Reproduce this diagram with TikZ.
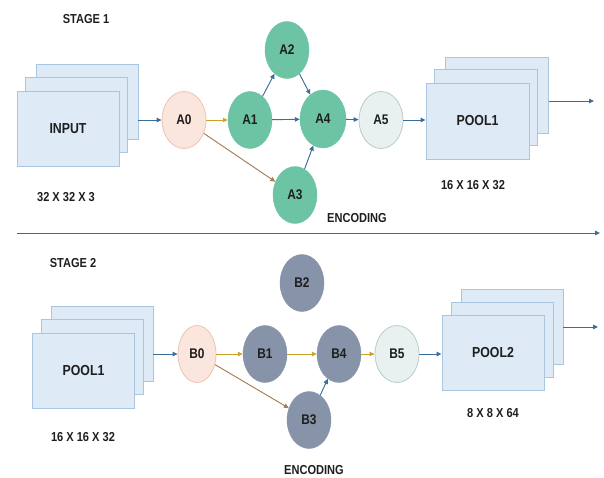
\documentclass[tikz,border=0pt]{standalone}
\usepackage{fontspec}
\setmainfont[FakeStretch=0.85]{Liberation Sans}
\usetikzlibrary{shapes.geometric,arrows.meta}
\definecolor{rectfill}{HTML}{DEEAF6}
\definecolor{rectline}{HTML}{A9C5E0}
\definecolor{tealfill}{HTML}{6CC4A4}
\definecolor{grayfill}{HTML}{8693A9}
\definecolor{peachfill}{HTML}{FBE6DE}
\definecolor{peachline}{HTML}{EEC2B2}
\definecolor{palefill}{HTML}{E8F0F0}
\definecolor{paleline}{HTML}{B8CCCC}
\definecolor{bluel}{HTML}{3A6E9A}
\definecolor{goldl}{HTML}{C9A227}
\definecolor{brownl}{HTML}{A67C52}
\definecolor{txt}{HTML}{1E1E1E}
\tikzset{
  lbl/.style={font=\bfseries\fontsize{13}{15}\selectfont, text=txt, inner sep=0pt},
  sheet/.style={draw=rectline, fill=rectfill, line width=0.9pt, minimum width=102pt, minimum height=75pt, inner sep=0pt, font=\bfseries\fontsize{14.5}{16}\selectfont, text=txt},
  nd/.style={ellipse, minimum width=44pt, minimum height=57pt, inner sep=0pt, font=\bfseries\fontsize{14}{16}\selectfont, text=txt},
  tealnd/.style={nd, fill=tealfill, draw=tealfill},
  graynd/.style={nd, fill=grayfill, draw=grayfill},
  peachnd/.style={nd, fill=peachfill, draw=peachline, line width=0.8pt},
  palend/.style={nd, fill=palefill, draw=paleline, line width=0.8pt},
  con/.style={line width=0.9pt, -{Triangle[length=5pt,width=4.5pt]}},
  bcon/.style={con, draw=bluel, fill=bluel},
  gcon/.style={con, draw=goldl, fill=goldl},
  rcon/.style={con, draw=brownl, fill=brownl},
}
\begin{document}
\begin{tikzpicture}[x=1pt,y=-1pt]
\useasboundingbox (0,0) rectangle (604,477);
% ---------- Stage 1 ----------
\node[lbl] (st1) at (86,19) {STAGE 1};
\node[sheet] (inback) at (87,102) {};
\node[sheet] (inmid) at (76.5,115) {};
\node[sheet] (infront) at (68,128.5) {INPUT};
\node[lbl] (dim1) at (66,197) {32 X 32 X 3};

\node[peachnd] (a0) at (184,120) {A0};
\node[tealnd] (a1) at (250,120) {A1};
\node[tealnd] (a2) at (287,50) {A2};
\node[tealnd] (a3) at (295,195) {A3};
\node[tealnd, minimum width=46pt, minimum height=58pt] (a4) at (323,119) {A4};
\node[palend] (a5) at (381,120) {A5};

\node[sheet, minimum width=103pt, minimum height=76pt] (p1back) at (497,95) {};
\node[sheet, minimum width=103pt, minimum height=76pt] (p1mid) at (486,107) {};
\node[sheet, minimum width=103pt, minimum height=76pt] (p1front) at (477.5,121) {POOL1};
\node[lbl] (dim2) at (473,185) {16 X 16 X 32};
\node[lbl] (enc1) at (357,218) {ENCODING};
\coordinate (out1) at (594,101);

\draw[bcon] (inback.east |- a0) -- (a0);
\draw[gcon] (a0) -- (a1);
\draw[rcon] (a0) -- (a3);
\draw[bcon] (a1) -- (a2);
\draw[bcon] (a1) -- (a4);
\draw[bcon] (a2) -- (a4);
\draw[bcon] (a3) -- (a4);
\draw[bcon] (a4) -- (a5);
\draw[bcon] (a5) -- (p1front.west |- a5);
\draw[bcon] (p1back.east |- out1) -- (out1);

% separator
\coordinate (sepl) at (17,233);
\coordinate (sepr) at (600,233);
\draw[bcon] (sepl) -- (sepr);

% ---------- Stage 2 ----------
\node[lbl] (st2) at (73,263) {STAGE 2};
\node[sheet] (qback) at (102,344) {};
\node[sheet] (qmid) at (92,356.5) {};
\node[sheet] (qfront) at (83.5,370.5) {POOL1};
\node[lbl] (dim3) at (83,437) {16 X 16 X 32};

\node[peachnd, minimum width=38pt] (b0) at (197,354) {B0};
\node[graynd] (b1) at (265,354) {B1};
\node[graynd] (b2) at (302,283) {B2};
\node[graynd] (b3) at (309,420) {B3};
\node[graynd] (b4) at (339,354) {B4};
\node[palend] (b5) at (397,354) {B5};

\node[sheet] (p2back) at (512,326.5) {};
\node[sheet] (p2mid) at (502.5,339.5) {};
\node[sheet] (p2front) at (493,352.5) {POOL2};
\node[lbl] (dim4) at (493,413) {8 X 8 X 64};
\node[lbl] (enc2) at (314,470) {ENCODING};
\coordinate (out2) at (598,327);

\draw[bcon] (qback.east |- b0) -- (b0);
\draw[gcon] (b0) -- (b1);
\draw[gcon] (b1) -- (b4);
\draw[gcon] (b4) -- (b5);
\draw[rcon] (b0) -- (b3);
\draw[bcon] (b3) -- (b4);
\draw[bcon] (b5) -- (p2front.west |- b5);
\draw[bcon] (p2back.east |- out2) -- (out2);
\end{tikzpicture}
\end{document}
